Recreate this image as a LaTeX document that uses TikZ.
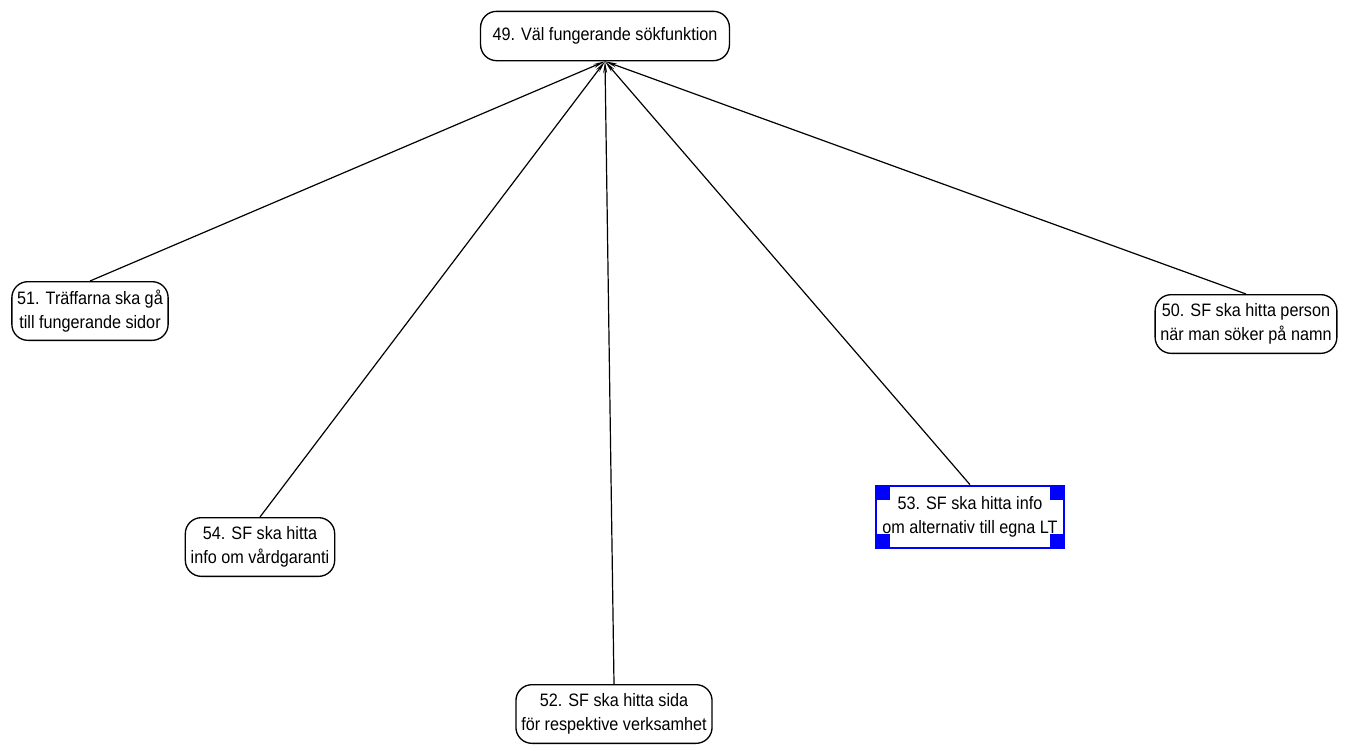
\documentclass[tikz,border=0pt]{standalone}
\usepackage{fontspec}
\setmainfont{Liberation Sans}[FakeStretch=0.9]
\usetikzlibrary{arrows.meta}

\tikzset{
  goal/.style={draw, rounded corners=12, line width=1pt, fill=white, align=center,
    inner xsep=4pt, minimum height=44pt,
    font=\fontsize{13.5}{17.5}\selectfont},
  chosen/.style={draw=blue, line width=1.5pt, fill=white, align=center,
    inner xsep=5pt, minimum height=47pt,
    font=\fontsize{13.5}{17.5}\selectfont},
  link/.style={line width=0.9pt, -{Stealth[length=9pt,width=3pt]}}
}

\begin{document}
\begin{tikzpicture}[x=0.75pt, y=-0.75pt]
  \useasboundingbox (0,0) rectangle (1365,747);

  \node[goal, minimum height=37pt, inner xsep=9pt] (n49) at (605,36) {49. Väl fungerande sökfunktion};
  \node[goal] (n51) at (90,311) {51. Träffarna ska gå\\till fungerande sidor};
  \node[goal] (n50) at (1246,324) {50. SF ska hitta person\\när man söker på namn};
  \node[goal] (n54) at (260,547) {54. SF ska hitta\\info om vårdgaranti};
  \node[goal] (n52) at (614,714) {52. SF ska hitta sida\\för respektive verksamhet};
  \node[chosen] (n53) at (970,517) {53. SF ska hitta info\\om alternativ till egna LT};

  % handles on the selected box
  \fill[blue] (n53.north west) rectangle ++(15,15);
  \fill[blue] (n53.north east) rectangle ++(-15,15);
  \fill[blue] (n53.south west) rectangle ++(15,-15);
  \fill[blue] (n53.south east) rectangle ++(-15,-15);

  \coordinate (tip) at (n49.south);
  \draw[link] (n51.north) -- (tip);
  \draw[link] (n54.north) -- (tip);
  \draw[link] (n52.north) -- (tip);
  \draw[link] (n53.north) -- (tip);
  \draw[link] (n50.north) -- (tip);
\end{tikzpicture}
\end{document}
